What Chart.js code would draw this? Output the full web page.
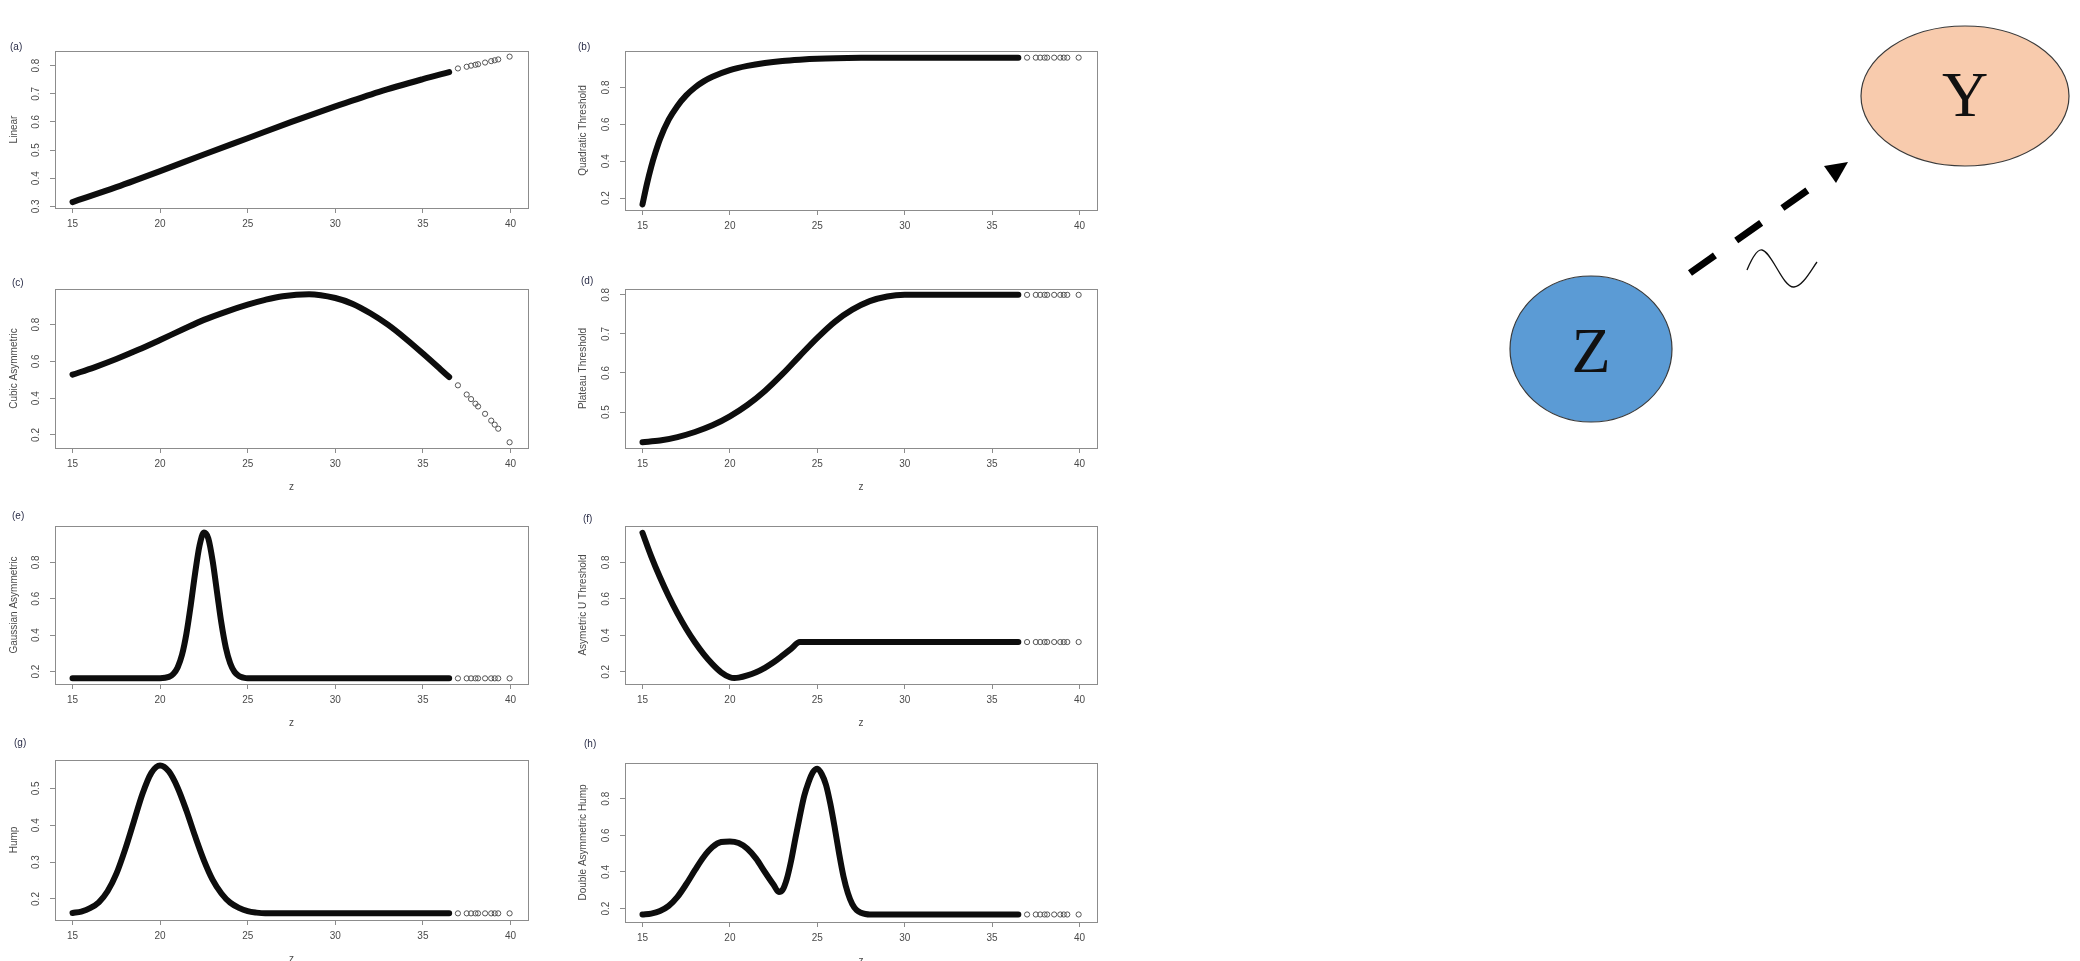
<!DOCTYPE html>
<html>
<head>
<meta charset="utf-8">
<script src="https://cdn.jsdelivr.net/npm/chart.js@4.4.0/dist/chart.umd.min.js"></script>
<style>
  html, body { margin: 0; padding: 0; background: #fff; }
  body { position: relative; width: 2080px; height: 961px; overflow: hidden; font-family: "Liberation Sans", Arial, sans-serif; }
  .tag { position: absolute; font-size: 10px; line-height: 12px; color: #2a2d48; }
  #diagram { position: absolute; left: 0; top: 0; }
</style>
</head>
<body>

<svg id="diagram" width="2080" height="961">
  <!-- Y node -->
  <ellipse cx="1965" cy="96" rx="104" ry="70" fill="#F8CBAD" stroke="#3a3a3a" stroke-width="1.2"/>
  <text x="1965" y="116" font-family="Liberation Serif, serif" font-size="64" text-anchor="middle" fill="#111">Y</text>
  <!-- Z node -->
  <ellipse cx="1591" cy="349" rx="81" ry="73" fill="#5B9BD5" stroke="#3a3a3a" stroke-width="1.2"/>
  <text x="1591" y="372" font-family="Liberation Serif, serif" font-size="64" text-anchor="middle" fill="#111">Z</text>
  <!-- dashed arrow Z -> Y -->
  <line x1="1690" y1="273" x2="1808" y2="190" stroke="#000" stroke-width="7" stroke-dasharray="30.5 26"/>
  <polygon points="1848,162 1824,166 1836,183" fill="#000"/>
  <!-- tilde -->
  <path d="M1747 270 C1752 258 1757 249 1762 250 C1772 252 1783 288 1794 287 C1803 286 1811 270 1817 262"
        fill="none" stroke="#111" stroke-width="1.3"/>
</svg>

<script>
// shared horizontal axis
const zTicks = [15, 20, 25, 30, 35, 40];
const zLimits = [14, 41];
// the few isolated observations at the top end of z
const tailZ = [37.0, 37.5, 37.75, 38.0, 38.15, 38.55, 38.9, 39.1, 39.3, 39.95];

// (a) Linear
const linearZ = [15, 17.5, 20, 22.5, 25, 27.5, 30, 32.5, 35, 36.5];
const linearY = [0.315, 0.368, 0.425, 0.484, 0.542, 0.600, 0.655, 0.707, 0.752, 0.777];
const linearTailY = [0.790, 0.796, 0.800, 0.803, 0.805, 0.811, 0.816, 0.819, 0.822, 0.832];
const linearTicks = [0.3, 0.4, 0.5, 0.6, 0.7, 0.8];

// (b) Quadratic Threshold
const quadZ = [15, 15.25, 15.5, 15.75, 16, 16.5, 17, 17.5, 18, 18.5, 19, 20, 21, 22, 23, 24, 25, 27.5, 30, 36.5];
const quadY = [0.165, 0.275, 0.37, 0.45, 0.52, 0.625, 0.70, 0.757, 0.80, 0.833, 0.858, 0.894, 0.917, 0.933, 0.944, 0.951, 0.956, 0.961, 0.962, 0.962];
const quadTailY = [0.962, 0.962, 0.962, 0.962, 0.962, 0.962, 0.962, 0.962, 0.962, 0.962];
const quadTicks = [0.2, 0.4, 0.6, 0.8];

// (c) Cubic Asymmetric
const cubicZ = [15, 16.25, 17.5, 18.75, 20, 21.25, 22.5, 23.75, 25, 26, 27, 28.5, 30, 31, 32, 33, 34, 35, 36, 36.5];
const cubicY = [0.528, 0.568, 0.613, 0.663, 0.717, 0.772, 0.826, 0.870, 0.909, 0.935, 0.955, 0.966, 0.945, 0.913, 0.862, 0.80, 0.725, 0.643, 0.558, 0.515];
const cubicTailY = [0.47, 0.42, 0.395, 0.37, 0.355, 0.315, 0.278, 0.256, 0.234, 0.16];
const cubicTicks = [0.2, 0.4, 0.6, 0.8];

// (d) Plateau Threshold
const plateauZ = [15, 16, 17, 18, 19, 20, 21, 22, 23, 24, 25, 26, 27, 28, 29, 30, 36.5];
const plateauY = [0.423, 0.427, 0.436, 0.449, 0.466, 0.489, 0.518, 0.554, 0.597, 0.644, 0.69, 0.731, 0.762, 0.784, 0.796, 0.8, 0.8];
const plateauTailY = [0.8, 0.8, 0.8, 0.8, 0.8, 0.8, 0.8, 0.8, 0.8, 0.8];
const plateauTicks = [0.5, 0.6, 0.7, 0.8];

// (e) Gaussian Asymmetric
const gaussZ = [15, 20, 20.5, 20.75, 21, 21.25, 21.5, 21.75, 22, 22.25, 22.5, 22.75, 23, 23.25, 23.5, 23.75, 24, 24.25, 24.5, 24.75, 25, 36.5];
const gaussY = [0.163, 0.164, 0.171, 0.187, 0.223, 0.292, 0.407, 0.565, 0.741, 0.891, 0.963, 0.931, 0.807, 0.635, 0.465, 0.332, 0.246, 0.198, 0.176, 0.167, 0.163, 0.163];
const gaussTailY = [0.163, 0.163, 0.163, 0.163, 0.163, 0.163, 0.163, 0.163, 0.163, 0.163];
const gaussTicks = [0.2, 0.4, 0.6, 0.8];

// (f) Asymmetric U Threshold
const uZ = [15, 15.5, 16, 16.5, 17, 17.5, 18, 18.5, 19, 19.5, 20, 20.25, 20.5, 21, 21.5, 22, 22.5, 23, 23.5, 24, 36.5];
const uY = [0.962, 0.833, 0.718, 0.614, 0.52, 0.436, 0.362, 0.297, 0.242, 0.197, 0.17, 0.166, 0.168, 0.18, 0.198, 0.222, 0.252, 0.288, 0.326, 0.363, 0.363];
const uTailY = [0.363, 0.363, 0.363, 0.363, 0.363, 0.363, 0.363, 0.363, 0.363, 0.363];
const uTicks = [0.2, 0.4, 0.6, 0.8];

// (g) Hump
const humpZ = [15, 15.5, 16, 16.5, 17, 17.5, 18, 18.5, 19, 19.5, 20, 20.5, 21, 21.5, 22, 22.5, 23, 23.5, 24, 24.5, 25, 25.5, 26, 36.5];
const humpY = [0.162, 0.166, 0.175, 0.191, 0.221, 0.268, 0.334, 0.41, 0.486, 0.542, 0.562, 0.546, 0.502, 0.44, 0.37, 0.305, 0.252, 0.215, 0.19, 0.176, 0.167, 0.163, 0.161, 0.161];
const humpTailY = [0.161, 0.161, 0.161, 0.161, 0.161, 0.161, 0.161, 0.161, 0.161, 0.161];
const humpTicks = [0.2, 0.3, 0.4, 0.5];

// (h) Double Asymmetric Hump
const doubleZ = [15, 15.5, 16, 16.5, 17, 17.5, 18, 18.5, 19, 19.5, 20, 20.5, 21, 21.5, 22, 22.5, 22.8, 23, 23.25, 23.5, 23.75, 24, 24.25, 24.5, 24.75, 25, 25.25, 25.5, 25.75, 26, 26.25, 26.5, 26.75, 27, 27.25, 27.5, 27.75, 28, 36.5];
const doubleY = [0.168, 0.173, 0.187, 0.215, 0.264, 0.333, 0.41, 0.482, 0.536, 0.564, 0.567, 0.558, 0.527, 0.473, 0.40, 0.33, 0.291, 0.30, 0.36, 0.46, 0.585, 0.705, 0.815, 0.89, 0.945, 0.964, 0.935, 0.875, 0.77, 0.64, 0.50, 0.375, 0.285, 0.225, 0.192, 0.178, 0.171, 0.168, 0.168];
const doubleTailY = [0.168, 0.168, 0.168, 0.168, 0.168, 0.168, 0.168, 0.168, 0.168, 0.168];
const doubleTicks = [0.2, 0.4, 0.6, 0.8];

const FONT = '"Liberation Sans", Arial, sans-serif';
const TEXT = '#4a4a4a';
const AXIS = '#8c8c8c';

// box = plot frame [left, top, right, bottom] on the page
const panels = [
  { tag: '(a)', tagAt: [17, 47],   box: [55, 51, 528, 208],    yTitle: 'Linear',                 xTitle: '',  z: linearZ,  y: linearY,  tail: linearTailY,  ticks: linearTicks,  yMin: 0.294, yMax: 0.852 },
  { tag: '(b)', tagAt: [585, 47],  box: [625, 51, 1097, 210],  yTitle: 'Quadratic Threshold',    xTitle: '',  z: quadZ,    y: quadY,    tail: quadTailY,    ticks: quadTicks,    yMin: 0.135, yMax: 0.998 },
  { tag: '(c)', tagAt: [19, 283],  box: [55, 289, 528, 448],   yTitle: 'Cubic Asymmetric',       xTitle: 'z', z: cubicZ,   y: cubicY,   tail: cubicTailY,   ticks: cubicTicks,   yMin: 0.129, yMax: 0.994 },
  { tag: '(d)', tagAt: [588, 281], box: [625, 289, 1097, 448], yTitle: 'Plateau Threshold',      xTitle: 'z', z: plateauZ, y: plateauY, tail: plateauTailY, ticks: plateauTicks, yMin: 0.408, yMax: 0.815 },
  { tag: '(e)', tagAt: [19, 516],  box: [55, 526, 528, 684],   yTitle: 'Gaussian Asymmetric',    xTitle: 'z', z: gaussZ,   y: gaussY,   tail: gaussTailY,   ticks: gaussTicks,   yMin: 0.132, yMax: 0.999 },
  { tag: '(f)', tagAt: [590, 519], box: [625, 526, 1097, 684], yTitle: 'Asymetric U Threshold',  xTitle: 'z', z: uZ,       y: uY,       tail: uTailY,       ticks: uTicks,       yMin: 0.133, yMax: 0.999 },
  { tag: '(g)', tagAt: [21, 743],  box: [55, 760, 528, 920],   yTitle: 'Hump',                   xTitle: 'z', z: humpZ,    y: humpY,    tail: humpTailY,    ticks: humpTicks,    yMin: 0.143, yMax: 0.577 },
  { tag: '(h)', tagAt: [591, 744], box: [625, 763, 1097, 922], yTitle: 'Double Asymmetric Hump', xTitle: 'z', z: doubleZ,  y: doubleY,  tail: doubleTailY,  ticks: doubleTicks,  yMin: 0.127, yMax: 0.995 }
];

// frame around the plotting region, like base R's box()
const framePlugin = {
  id: 'frame',
  afterDraw(chart) {
    const { ctx, chartArea: a } = chart;
    ctx.save();
    ctx.strokeStyle = AXIS;
    ctx.lineWidth = 1;
    ctx.strokeRect(Math.round(a.left) + 0.5, Math.round(a.top) + 0.5,
                   Math.round(a.right - a.left), Math.round(a.bottom - a.top));
    ctx.restore();
  }
};

function toPoints(zs, ys) {
  return zs.map((z, i) => ({ x: z, y: ys[i] }));
}

function drawPanel(p) {
  const [bl, bt, br, bb] = p.box;
  const left = Math.max(0, bl - 56);
  const top = bt - 20;
  const width = br - left + 12;
  const height = bb - top + 49;

  const canvas = document.createElement('canvas');
  canvas.width = width;
  canvas.height = height;
  canvas.style.cssText = `position:absolute;left:${left}px;top:${top}px;width:${width}px;height:${height}px`;
  document.body.appendChild(canvas);

  const tag = document.createElement('div');
  tag.className = 'tag';
  tag.textContent = p.tag;
  tag.style.left = (p.tagAt[0] - 7) + 'px';
  tag.style.top = (p.tagAt[1] - 6) + 'px';
  document.body.appendChild(tag);

  new Chart(canvas, {
    type: 'scatter',
    data: {
      datasets: [
        {
          data: toPoints(p.z, p.y),
          showLine: true,
          borderColor: '#0d0d0d',
          borderWidth: 6,
          borderCapStyle: 'round',
          borderJoinStyle: 'round',
          cubicInterpolationMode: 'monotone',
          pointRadius: 0
        },
        {
          data: toPoints(tailZ, p.tail),
          showLine: false,
          pointRadius: 2.6,
          pointBorderWidth: 1,
          pointBorderColor: '#555',
          pointBackgroundColor: 'rgba(255,255,255,0)'
        }
      ]
    },
    options: {
      responsive: false,
      animation: false,
      events: [],
      layout: { padding: { left: 0, top: bt - top, right: left + width - br, bottom: 0 } },
      plugins: { legend: { display: false }, tooltip: { enabled: false } },
      scales: {
        x: {
          type: 'linear',
          min: zLimits[0],
          max: zLimits[1],
          afterBuildTicks: (s) => { s.ticks = zTicks.map(v => ({ value: v })); },
          afterFit: (s) => { s.height = height - (bb - top); },
          border: { display: false },
          grid: { drawOnChartArea: false, tickLength: 5, color: AXIS },
          ticks: { autoSkip: false, maxRotation: 0, padding: 5, color: TEXT, font: { family: FONT, size: 10 } },
          title: { display: !!p.xTitle, text: p.xTitle, color: TEXT, padding: { top: 0, bottom: 4 }, font: { family: FONT, size: 10 } }
        },
        y: {
          type: 'linear',
          min: p.yMin,
          max: p.yMax,
          afterBuildTicks: (s) => { s.ticks = p.ticks.map(v => ({ value: v })); },
          afterFit: (s) => { s.width = bl - left; },
          border: { display: false },
          grid: { drawOnChartArea: false, tickLength: 5, color: AXIS },
          ticks: {
            autoSkip: false, minRotation: 90, maxRotation: 90, crossAlign: 'center', padding: 7,
            color: TEXT, font: { family: FONT, size: 10 },
            callback: (v) => String(v)
          },
          title: { display: true, text: p.yTitle, color: TEXT, padding: { top: 8, bottom: 0 }, font: { family: FONT, size: 10 } }
        }
      }
    },
    plugins: [framePlugin]
  });
}

panels.forEach(drawPanel);
</script>
</body>
</html>
